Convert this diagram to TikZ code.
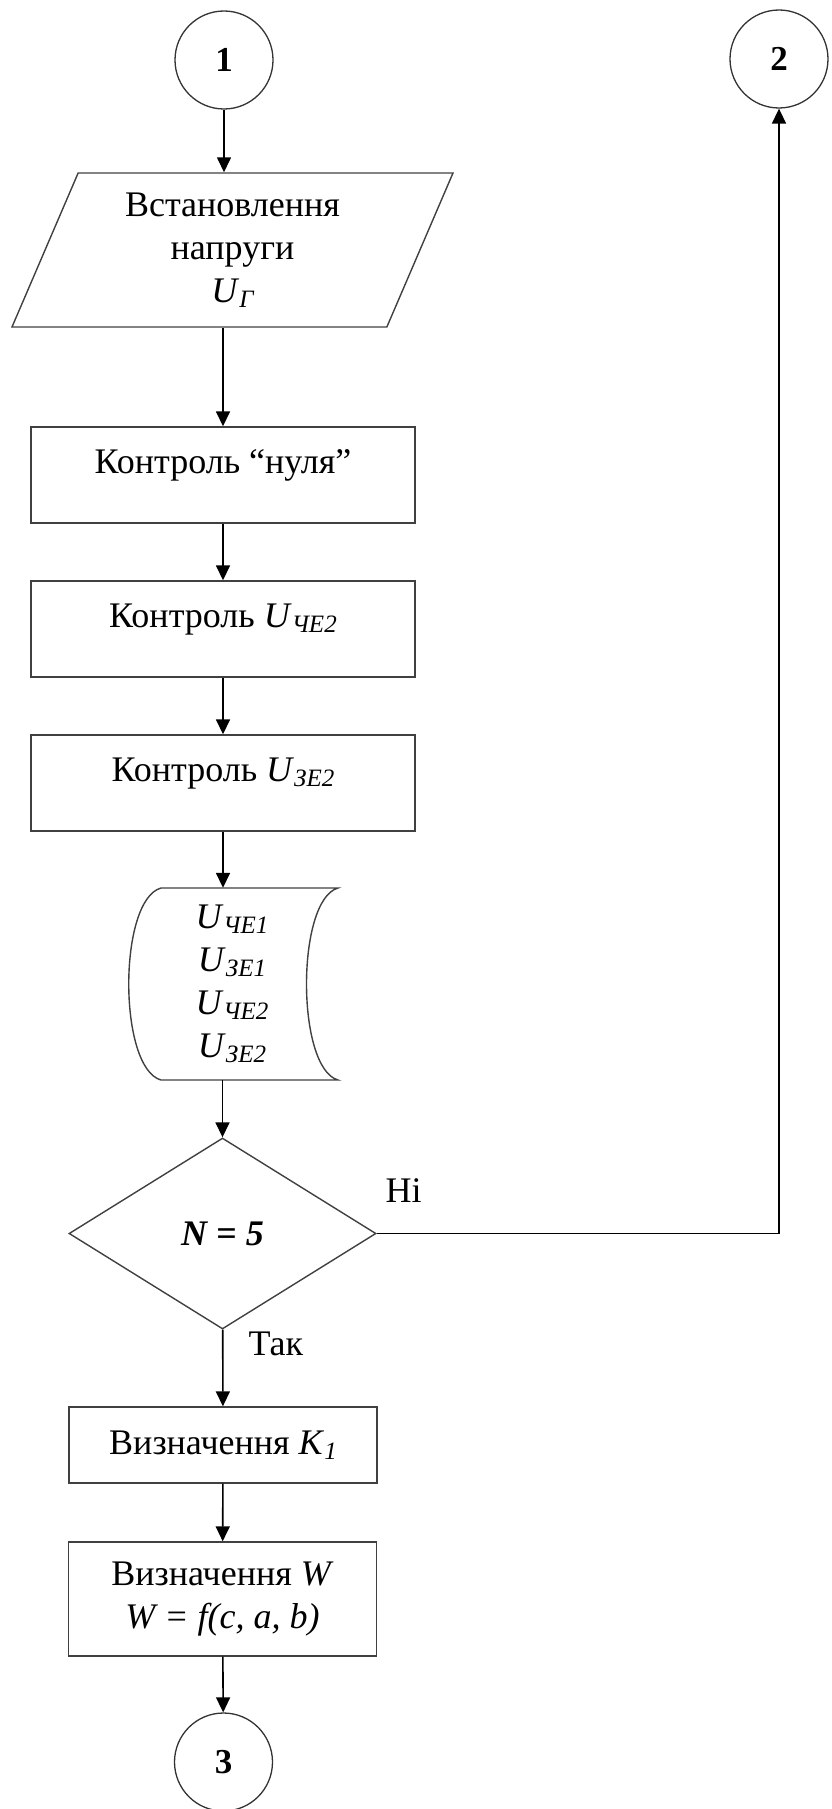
\documentclass[tikz,border=0pt]{standalone}
\usepackage{fontspec}
\setmainfont{Liberation Serif}
\usetikzlibrary{arrows.meta,shapes.geometric}
\def\ix#1{\raisebox{-5pt}{\fontsize{25}{25}\selectfont\itshape #1}}
\tikzset{
	conn/.style={circle, draw=black!80, line width=1.3pt, minimum size=98pt, inner sep=0pt, font=\fontsize{35}{35}\selectfont\bfseries},
	proc/.style={rectangle, draw=black!75, line width=1.4pt, align=center, inner sep=0pt},
	flow/.style={line width=1.6pt, -{Triangle[length=15pt,width=14pt]}}
}

\begin{document}
\begin{tikzpicture}[x=1pt, y=-1pt, font=\fontsize{36}{43}\selectfont]
		%%%%% START %%%%%
		\useasboundingbox (0,0) rectangle (831,1809);
		
		\node[conn] (c1) at (224,60) {1};
		\node[conn] (c2) at (779,59) {2};
		
		\node[trapezium, trapezium left angle=60, trapezium right angle=120, trapezium stretches body, draw=black!75, line width=1.4pt, minimum width=441pt, minimum height=154pt, inner sep=0pt, align=center] (set) at (232.5,250) {Встановлення\\напруги\\\textit{U}\ix{Г}};
		
		\node[proc, minimum width=384pt, minimum height=96pt, text height=24pt, text depth=28pt] (zero) at (223,475) {Контроль “нуля”};
		\node[proc, minimum width=384pt, minimum height=96pt, text height=24pt, text depth=28pt] (ue2) at (223,629) {Контроль \textit{U}\ix{ЧЕ2}};
		\node[proc, minimum width=384pt, minimum height=96pt, text height=24pt, text depth=28pt] (ze2) at (223,783) {Контроль \textit{U}\ix{ЗЕ2}};
		
		% stored values
		\node[align=center, minimum height=192pt, inner sep=0pt] (mem) at (232,984) {\textit{U}\ix{ЧЕ1}\\\textit{U}\ix{ЗЕ1}\\\textit{U}\ix{ЧЕ2}\\\textit{U}\ix{ЗЕ2}};
		\draw[draw=black!75, line width=1.4pt] (161,888) -- (338,888) .. controls (296,900) and (296,1068) .. (338,1080) -- (161,1080) .. controls (118,1068) and (118,900) .. cycle;
		
		\node[diamond, draw=black!75, line width=1.4pt, minimum width=307pt, minimum height=191pt, inner sep=0pt] (test) at (222.5,1233.5) {\textbf{\textit{N = 5}}};
		\node[anchor=base west] (no) at (382,1202) {Ні};
		\node[anchor=base west] (yes) at (245,1355) {Так};
		
		\node[proc, minimum width=308pt, minimum height=76pt] (k1) at (223,1445) {Визначення \textit{K}\ix{1}};
		\node[proc, minimum width=308pt, minimum height=114pt] (w) at (222.5,1599) {Визначення \textit{W}\\\textit{W = f(c, a, b)}};
		\node[conn] (c3) at (223.5,1762) {3};
		
		\draw[flow] (c1) -- (set.north -| c1);
		\draw[flow] (set.south -| zero.north) -- (zero.north);
		\draw[flow] (zero) -- (ue2);
		\draw[flow] (ue2) -- (ze2);
		\draw[flow] (ze2.south) -- (ze2.south |- mem.north);
		\draw[flow] (mem.south -| test.north) -- (test.north);
		\draw[flow] (test.east) -| (c2);
		\draw[flow] (test) -- (k1);
		\draw[flow] (k1) -- (w);
		\draw[flow] (w) -- (c3);
		%%%%% END %%%%%
\end{tikzpicture}
\end{document}
